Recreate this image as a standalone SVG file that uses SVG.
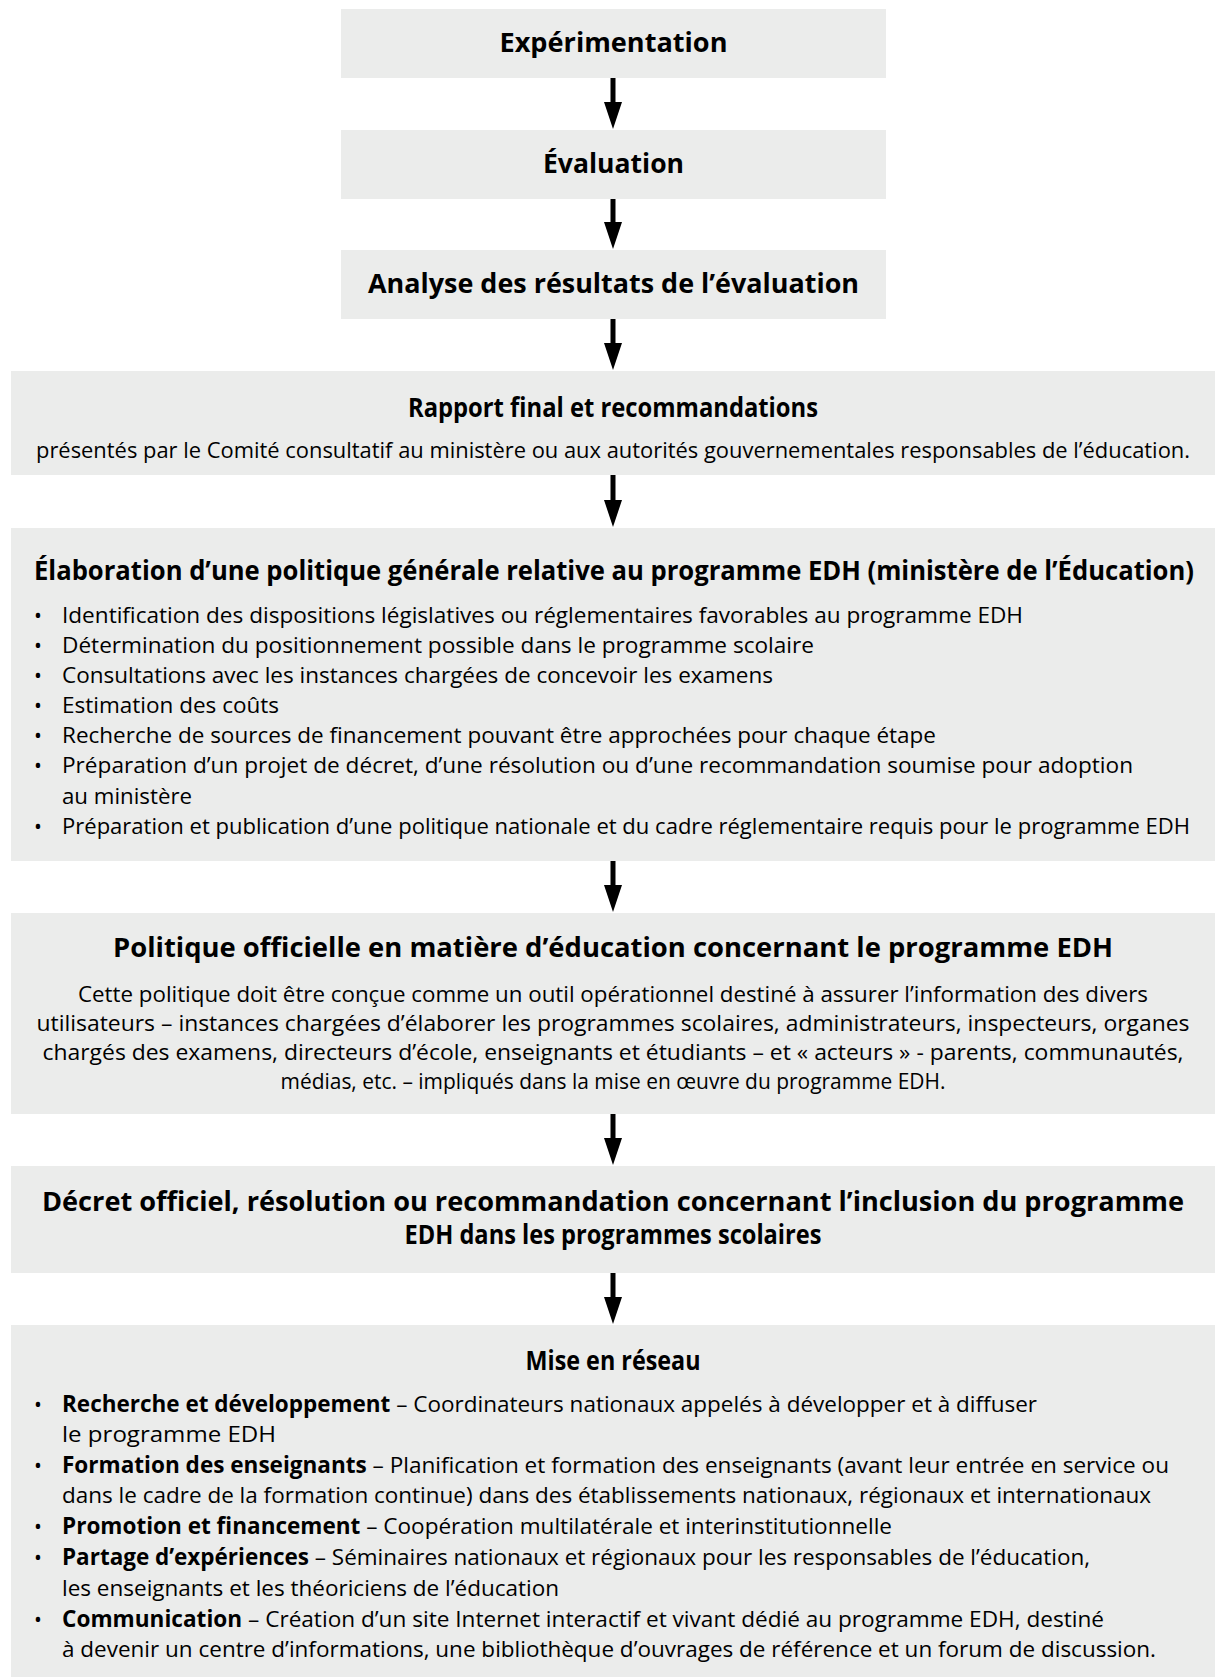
<svg xmlns="http://www.w3.org/2000/svg" width="1215" height="1677" viewBox="0 0 1215 1677">
<style>
.box{fill:#ebeceb}
.h{font-family:"Open Sans","Noto Sans","Liberation Sans",sans-serif;font-weight:700;font-size:26px;fill:#000}
.t{font-family:"Open Sans","Noto Sans","Liberation Sans",sans-serif;font-weight:400;font-size:22.5px;fill:#000}
.s{font-size:21px}
.b{font-weight:700}
.c{text-anchor:middle}
.bul{font-family:"Open Sans","Noto Sans","Liberation Sans",sans-serif;font-size:21px;text-anchor:middle;fill:#000}
.conn{stroke:#000;stroke-width:5;fill:none}
</style>
<defs>
<marker id="ah" markerUnits="userSpaceOnUse" markerWidth="27" markerHeight="18" viewBox="0 0 27 18" refX="1" refY="9" orient="auto">
<path d="M0,0 L27,9 L0,18 z" fill="#000"/>
</marker>
</defs>
<rect width="1215" height="1677" fill="#fff"/>

<g id="n1">
<rect class="box" x="341" y="9" width="545" height="69"/>
<text class="h c" x="613.5" y="52" textLength="228" lengthAdjust="spacingAndGlyphs">Expérimentation</text>
</g>
<g id="n2">
<rect class="box" x="341" y="130" width="545" height="69"/>
<text class="h c" x="613.5" y="173" textLength="141" lengthAdjust="spacingAndGlyphs">Évaluation</text>
</g>
<g id="n3">
<rect class="box" x="341" y="250" width="545" height="69"/>
<text class="h c" x="613.5" y="293" textLength="491" lengthAdjust="spacingAndGlyphs">Analyse des résultats de l’évaluation</text>
</g>
<g id="n4">
<rect class="box" x="11" y="371" width="1204" height="104"/>
<text class="h c" x="613" y="417" textLength="410" lengthAdjust="spacingAndGlyphs">Rapport final et recommandations</text>
<text class="t s c" x="613" y="458" textLength="1154" lengthAdjust="spacingAndGlyphs">présentés par le Comité consultatif au ministère ou aux autorités gouvernementales responsables de l’éducation.</text>
</g>
<g id="n5">
<rect class="box" x="11" y="528" width="1204" height="333"/>
<text class="h" x="34" y="580" textLength="1160" lengthAdjust="spacingAndGlyphs">Élaboration d’une politique générale relative au programme EDH (ministère de l’Éducation)</text>
<text class="bul" x="38" y="623">•</text>
<text class="t" x="62" y="623" textLength="961" lengthAdjust="spacingAndGlyphs">Identification des dispositions législatives ou réglementaires favorables au programme EDH</text>
<text class="bul" x="38" y="653">•</text>
<text class="t" x="62" y="653" textLength="752" lengthAdjust="spacingAndGlyphs">Détermination du positionnement possible dans le programme scolaire</text>
<text class="bul" x="38" y="683">•</text>
<text class="t" x="62" y="683" textLength="711" lengthAdjust="spacingAndGlyphs">Consultations avec les instances chargées de concevoir les examens</text>
<text class="bul" x="38" y="713">•</text>
<text class="t" x="62" y="713" textLength="217" lengthAdjust="spacingAndGlyphs">Estimation des coûts</text>
<text class="bul" x="38" y="743">•</text>
<text class="t" x="62" y="743" textLength="874" lengthAdjust="spacingAndGlyphs">Recherche de sources de financement pouvant être approchées pour chaque étape</text>
<text class="bul" x="38" y="773">•</text>
<text class="t" x="62" y="773" textLength="1071" lengthAdjust="spacingAndGlyphs">Préparation d’un projet de décret, d’une résolution ou d’une recommandation soumise pour adoption</text>
<text class="t" x="62" y="804" textLength="130" lengthAdjust="spacingAndGlyphs">au ministère</text>
<text class="bul" x="38" y="834">•</text>
<text class="t" x="62" y="834" textLength="1128" lengthAdjust="spacingAndGlyphs">Préparation et publication d’une politique nationale et du cadre réglementaire requis pour le programme EDH</text>
</g>
<g id="n6">
<rect class="box" x="11" y="913" width="1204" height="201"/>
<text class="h c" x="613" y="957" textLength="1000" lengthAdjust="spacingAndGlyphs">Politique officielle en matière d’éducation concernant le programme EDH</text>
<text class="t c" x="613" y="1002" textLength="1070" lengthAdjust="spacingAndGlyphs">Cette politique doit être conçue comme un outil opérationnel destiné à assurer l’information des divers</text>
<text class="t c" x="613" y="1031" textLength="1153" lengthAdjust="spacingAndGlyphs">utilisateurs – instances chargées d’élaborer les programmes scolaires, administrateurs, inspecteurs, organes</text>
<text class="t c" x="613" y="1060" textLength="1141" lengthAdjust="spacingAndGlyphs">chargés des examens, directeurs d’école, enseignants et étudiants – et « acteurs » - parents, communautés,</text>
<text class="t c" x="613" y="1089" textLength="665" lengthAdjust="spacingAndGlyphs">médias, etc. – impliqués dans la mise en œuvre du programme EDH.</text>
</g>
<g id="n7">
<rect class="box" x="11" y="1166" width="1204" height="107"/>
<text class="h c" x="613" y="1211" textLength="1142" lengthAdjust="spacingAndGlyphs">Décret officiel, résolution ou recommandation concernant l’inclusion du programme</text>
<text class="h c" x="613" y="1244" textLength="417" lengthAdjust="spacingAndGlyphs">EDH dans les programmes scolaires</text>
</g>
<g id="n8">
<rect class="box" x="11" y="1325" width="1204" height="352"/>
<text class="h c" x="613" y="1370" textLength="175" lengthAdjust="spacingAndGlyphs">Mise en réseau</text>
<text class="bul" x="38" y="1412">•</text>
<text class="t" x="62" y="1412" textLength="975" lengthAdjust="spacingAndGlyphs"><tspan class="b">Recherche et développement</tspan> – Coordinateurs nationaux appelés à développer et à diffuser</text>
<text class="t" x="62" y="1442" textLength="214" lengthAdjust="spacingAndGlyphs">le programme EDH</text>
<text class="bul" x="38" y="1473">•</text>
<text class="t" x="62" y="1473" textLength="1107" lengthAdjust="spacingAndGlyphs"><tspan class="b">Formation des enseignants</tspan> – Planification et formation des enseignants (avant leur entrée en service ou</text>
<text class="t" x="62" y="1503" textLength="1089" lengthAdjust="spacingAndGlyphs">dans le cadre de la formation continue) dans des établissements nationaux, régionaux et internationaux</text>
<text class="bul" x="38" y="1534">•</text>
<text class="t" x="62" y="1534" textLength="830" lengthAdjust="spacingAndGlyphs"><tspan class="b">Promotion et financement</tspan> – Coopération multilatérale et interinstitutionnelle</text>
<text class="bul" x="38" y="1565">•</text>
<text class="t" x="62" y="1565" textLength="1028" lengthAdjust="spacingAndGlyphs"><tspan class="b">Partage d’expériences</tspan> – Séminaires nationaux et régionaux pour les responsables de l’éducation,</text>
<text class="t" x="62" y="1596" textLength="497" lengthAdjust="spacingAndGlyphs">les enseignants et les théoriciens de l’éducation</text>
<text class="bul" x="38" y="1627">•</text>
<text class="t" x="62" y="1627" textLength="1042" lengthAdjust="spacingAndGlyphs"><tspan class="b">Communication</tspan> – Création d’un site Internet interactif et vivant dédié au programme EDH, destiné</text>
<text class="t" x="62" y="1657" textLength="1094" lengthAdjust="spacingAndGlyphs">à devenir un centre d’informations, une bibliothèque d’ouvrages de référence et un forum de discussion.</text>
</g>

<g id="connectors">
<line class="conn" x1="613" y1="78" x2="613" y2="103" marker-end="url(#ah)"/>
<line class="conn" x1="613" y1="199" x2="613" y2="223" marker-end="url(#ah)"/>
<line class="conn" x1="613" y1="319" x2="613" y2="344" marker-end="url(#ah)"/>
<line class="conn" x1="613" y1="475" x2="613" y2="501" marker-end="url(#ah)"/>
<line class="conn" x1="613" y1="861" x2="613" y2="886" marker-end="url(#ah)"/>
<line class="conn" x1="613" y1="1114" x2="613" y2="1139" marker-end="url(#ah)"/>
<line class="conn" x1="613" y1="1273" x2="613" y2="1298" marker-end="url(#ah)"/>
</g>
</svg>
